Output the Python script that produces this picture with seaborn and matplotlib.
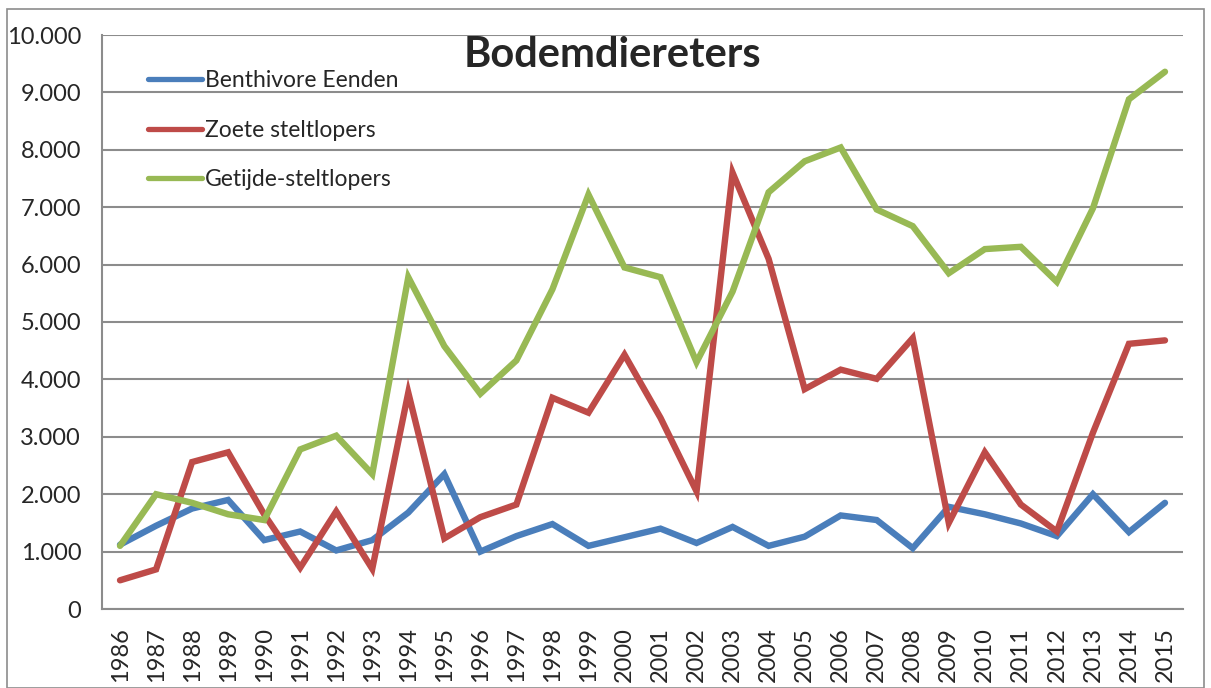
import numpy as np
import pandas as pd
import matplotlib
matplotlib.use('Agg')
import matplotlib.pyplot as plt
import matplotlib.ticker as mticker
import seaborn as sns

years = list(range(1986, 2016))
benthivore = [1120, 1450, 1750, 1900, 1200, 1350, 1020, 1200, 1680, 2350,
              1000, 1270, 1480, 1100, 1250, 1400, 1150, 1430, 1100, 1260,
              1630, 1550, 1060, 1780, 1650, 1490, 1270, 2000, 1340, 1850]
zoete = [500, 690, 2560, 2730, 1650, 720, 1700, 700, 3770, 1230,
         1600, 1820, 3680, 3420, 4430, 3330, 2050, 7600, 6100, 3830,
         4170, 4010, 4720, 1500, 2730, 1820, 1350, 3070, 4620, 4680]
getijde = [1100, 2000, 1850, 1650, 1550, 2780, 3020, 2350, 5780, 4580,
           3750, 4330, 5570, 7220, 5950, 5780, 4300, 5530, 7260, 7800,
           8040, 6960, 6670, 5850, 6270, 6310, 5700, 6980, 8880, 9360]
series_names = ['Benthivore Eenden', 'Zoete steltlopers', 'Getijde-steltlopers']
colors = ['#4A7EBB', '#BE4B48', '#98B954']

df = pd.DataFrame({'jaar': years,
                   series_names[0]: benthivore,
                   series_names[1]: zoete,
                   series_names[2]: getijde})
long = df.melt(id_vars='jaar', var_name='groep', value_name='aantal')

sns.set_style('white')
plt.rcParams['font.family'] = ['Lato', 'DejaVu Sans']

fig = plt.figure(figsize=(12.11, 6.88), dpi=100)
ax = fig.add_axes([102/1211, 1-609/688, (1183-102)/1211, (609-35)/688])

sns.lineplot(data=long, x='jaar', y='aantal', hue='groep', palette=colors,
             linewidth=4.6, ax=ax, legend=True)
for ln in ax.lines:
    ln.set_solid_capstyle('round')
    ln.set_solid_joinstyle('miter')

gray = '#8C8C8C'
ax.set_xlim(1985.5, 2015.5)
ax.set_ylim(0, 10000)
ax.set_yticks(range(0, 10001, 1000))
ax.yaxis.set_major_formatter(mticker.FuncFormatter(lambda v, p: f'{int(v):,}'.replace(',', '.')))
ax.set_xticks(years)
ax.set_xticklabels([str(y) for y in years], rotation=90)
ax.set_xticks(np.arange(1985.5, 2016, 1), minor=True)
ax.tick_params(axis='x', which='major', length=0, labelsize=17, pad=13)
ax.tick_params(axis='x', which='minor', length=7, width=1.5, color=gray, direction='out')
ax.tick_params(axis='y', which='major', length=7, width=1.5, color=gray, direction='out', labelsize=17, pad=8)
ax.set_xlabel('')
ax.set_ylabel('')
ax.yaxis.grid(True, color=gray, linewidth=1.5)
ax.set_axisbelow(True)
for s in ['top', 'right']:
    ax.spines[s].set_visible(False)
for s in ['left', 'bottom']:
    ax.spines[s].set_color(gray)
    ax.spines[s].set_linewidth(1.5)

leg = ax.legend(loc='upper left', bbox_to_anchor=(139/1211, 1-61/688), bbox_transform=fig.transFigure,
                frameon=False, fontsize=16.5, handlelength=2.35, handletextpad=0.13,
                labelspacing=1.25, borderaxespad=0)
for h in leg.get_lines():
    h.set_linewidth(3.8)
    h.set_solid_capstyle('round')

fig.text(612/1211, 1-55/688, 'Bodemdiereters', ha='center', va='center',
         fontsize=30, fontweight='bold')

fig.patches.append(plt.Rectangle((7/1211, 0), 1-14/1211, 1-9/688, transform=fig.transFigure,
                                 fill=False, edgecolor=gray, linewidth=1.2))

fig.savefig('out.png', dpi=100)
